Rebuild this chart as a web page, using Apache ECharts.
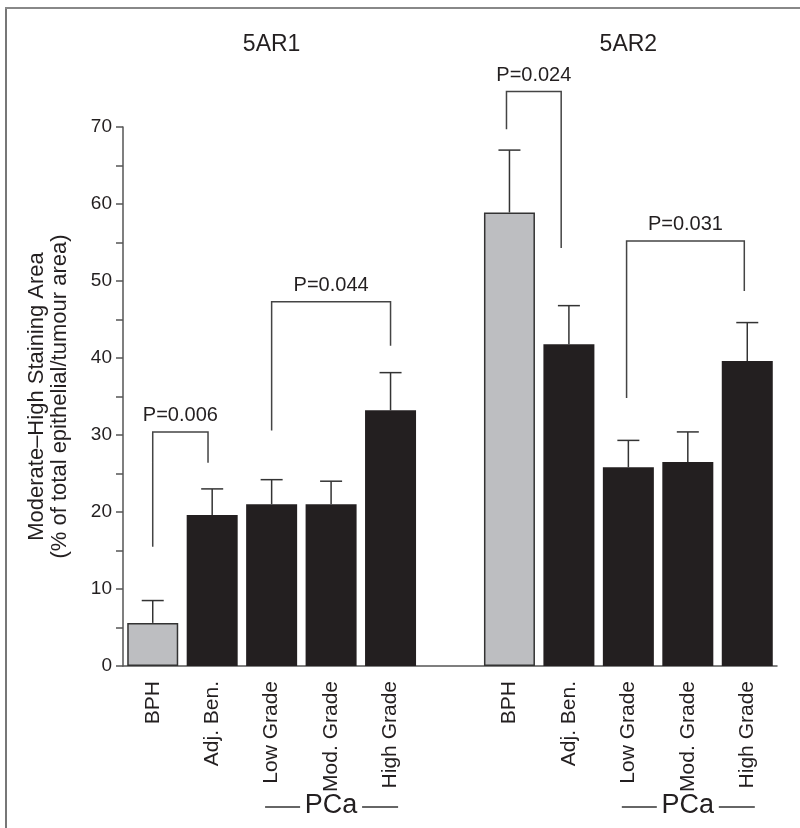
<!DOCTYPE html>
<html>
<head>
<meta charset="utf-8">
<script src="https://cdn.jsdelivr.net/npm/echarts@6/dist/echarts.min.js"></script>
<style>html,body{margin:0;padding:0;background:#fff}#c{width:800px;height:828px}</style>
</head>
<body>
<div id="c"></div>
<script>
// ---- data ----
const groupNames = ['5AR1', '5AR2'];
const categories = ['BPH', 'Adj. Ben.', 'Low Grade', 'Mod. Grade', 'High Grade'];
const means5AR1 = [5.6, 19.6, 21.0, 21.0, 33.2];
const errTop5AR1 = [8.5, 23.0, 24.2, 24.0, 38.1];
const means5AR2 = [58.9, 41.8, 25.8, 26.5, 39.6];
const errTop5AR2 = [67.0, 46.8, 29.3, 30.4, 44.6];
const yTicks = [0, 10, 20, 30, 40, 50, 60, 70];
const bracketLabels = ['P=0.006', 'P=0.044', 'P=0.024', 'P=0.031'];
const bracketX = [[0.0, 0.93], [2.0, 4.0], [5.95, 6.87], [7.97, 9.95]];
const bracketY = [[15.5, 30.4, 26.4], [30.6, 47.3, 41.6], [69.7, 74.6, 54.3], [34.8, 55.2, 48.7]];
const groupLabel = 'PCa';

// ---- build ----
const FONT = "'Liberation Sans Narrow', 'Liberation Sans', Arial, sans-serif";
const INK = '#231f20';
const xCats = categories.concat(['']).concat(categories);
const means = means5AR1.concat([null]).concat(means5AR2);
const errs = errTop5AR1.concat([null]).concat(errTop5AR2);
const barData = means.map((v, i) => {
  if (v === null) return '-';
  const isBPH = xCats[i] === 'BPH';
  return {
    value: v,
    itemStyle: isBPH
      ? { color: '#bdbec1', borderColor: '#333', borderWidth: 1.5 }
      : { color: INK, borderWidth: 0 }
  };
});
const errData = [];
means.forEach((v, i) => { if (v !== null) errData.push([i, v, errs[i]]); });
const bracketData = bracketLabels.map((l, i) => [bracketX[i][0], bracketX[i][1], bracketY[i][0], bracketY[i][1], bracketY[i][2], i]);
const groupData = [[2, 0], [8, 0]];
const pcaData = [[3, 0], [9, 0]];

const chart = echarts.init(document.getElementById('c'), null, { renderer: 'canvas' });
chart.setOption({
  animation: false,
  backgroundColor: '#fff',
  graphic: [
    { type: 'line', shape: { x1: 6, y1: 8, x2: 6, y2: 828 }, style: { stroke: '#777', lineWidth: 2 } },
    { type: 'line', shape: { x1: 5, y1: 8, x2: 800, y2: 8 }, style: { stroke: '#888', lineWidth: 2 } }
  ],
  grid: { left: 123, right: 23, top: 127, bottom: 162, containLabel: false },
  xAxis: [
    {
      type: 'category', data: xCats,
      axisLine: { onZero: false, lineStyle: { color: '#555', width: 1.5 } },
      axisTick: { show: false },
      axisLabel: { rotate: 90, margin: 15, interval: 0, fontFamily: FONT, fontSize: 21, color: INK }
    },
    { type: 'value', min: -0.5, max: 10.5, show: false }
  ],
  yAxis: {
    type: 'value', min: 0, max: 70, interval: 5,
    name: 'Moderate\u2013High Staining Area\n(% of total epithelial/tumour area)',
    nameLocation: 'middle', nameGap: 52, nameRotate: 90,
    nameTextStyle: { fontFamily: FONT, fontSize: 22, lineHeight: 23, color: INK, align: 'center' },
    axisLine: { show: true, onZero: false, lineStyle: { color: '#555', width: 1.5 } },
    axisTick: { show: true, length: 7, lineStyle: { color: '#555', width: 1.5 } },
    splitLine: { show: false },
    axisLabel: {
      margin: 11, fontFamily: FONT, fontSize: 19, color: INK,
      formatter: v => (yTicks.indexOf(v) >= 0 ? String(v) : '')
    }
  },
  series: [
    {
      type: 'bar', data: barData, barWidth: 51, xAxisIndex: 0
    },
    {
      type: 'custom', xAxisIndex: 0, data: errData, z: 3,
      renderItem(params, api) {
        const x = api.value(0);
        const p0 = api.coord([x, api.value(1)]);
        const p1 = api.coord([x, api.value(2)]);
        const hw = 11;
        const st = { stroke: '#333', lineWidth: 1.5 };
        return { type: 'group', children: [
          { type: 'line', shape: { x1: p0[0], y1: p0[1], x2: p1[0], y2: p1[1] }, style: st },
          { type: 'line', shape: { x1: p1[0] - hw, y1: p1[1], x2: p1[0] + hw, y2: p1[1] }, style: st }
        ] };
      }
    },
    {
      type: 'custom', xAxisIndex: 1, data: bracketData, clip: false, z: 4,
      renderItem(params, api) {
        const xl = api.value(0), xr = api.value(1);
        const a = api.coord([xl, api.value(2)]);
        const b = api.coord([xl, api.value(3)]);
        const c = api.coord([xr, api.value(3)]);
        const d = api.coord([xr, api.value(4)]);
        const idx = api.value(5);
        return { type: 'group', children: [
          { type: 'polyline', shape: { points: [a, b, c, d] }, style: { stroke: '#444', lineWidth: 1.5, fill: null } },
          { type: 'text', x: (b[0] + c[0]) / 2, y: b[1] - 16,
            style: { text: bracketLabels[idx], fontFamily: FONT, fontSize: 20, fill: INK, align: 'center', verticalAlign: 'middle' } }
        ] };
      }
    },
    {
      type: 'custom', xAxisIndex: 1, data: groupData, clip: false,
      renderItem(params, api) {
        const p = api.coord([api.value(0), 70]);
        return { type: 'text', x: p[0], y: p[1] - 82,
          style: { text: groupNames[params.dataIndex], fontFamily: FONT, fontSize: 23, fill: INK, align: 'center', verticalAlign: 'middle' } };
      }
    },
    {
      type: 'custom', xAxisIndex: 1, data: pcaData, clip: false,
      renderItem(params, api) {
        const p = api.coord([api.value(0), api.value(1)]);
        const y = p[1] + 141;
        const st = { stroke: '#333', lineWidth: 1.5 };
        return { type: 'group', children: [
          { type: 'line', shape: { x1: p[0] - 66, y1: y, x2: p[0] - 31, y2: y }, style: st },
          { type: 'line', shape: { x1: p[0] + 31, y1: y, x2: p[0] + 67, y2: y }, style: st },
          { type: 'text', x: p[0], y: y - 1,
            style: { text: groupLabel, fontFamily: FONT, fontSize: 27, fill: INK, align: 'center', verticalAlign: 'middle' } }
        ] };
      }
    }
  ]
});
</script>
</body>
</html>
